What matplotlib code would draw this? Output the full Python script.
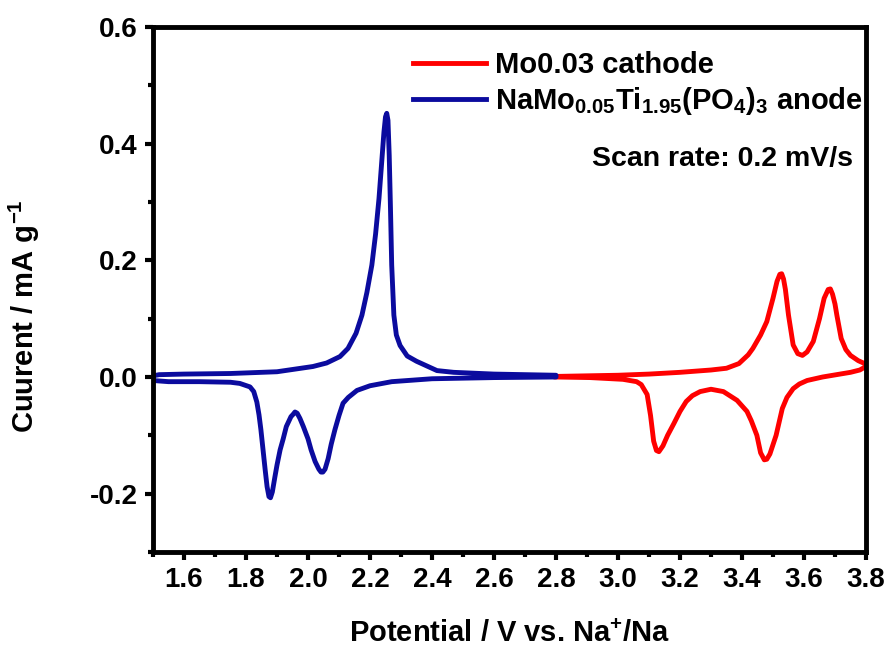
import numpy as np
import matplotlib.pyplot as plt

plt.rcParams['font.family'] = ['Liberation Sans', 'DejaVu Sans']
plt.rcParams['font.weight'] = 'bold'
plt.rcParams['axes.labelweight'] = 'bold'
plt.rcParams['mathtext.fontset'] = 'custom'
plt.rcParams['mathtext.rm'] = 'Liberation Sans:bold'
plt.rcParams['mathtext.it'] = 'Liberation Sans:bold'
plt.rcParams['mathtext.bf'] = 'Liberation Sans:bold'
plt.rcParams['mathtext.default'] = 'rm'

# cathode CV loop (Mo0.03), forward then reverse sweep
cat_v = [2.80, 2.90, 3.00, 3.10, 3.20, 3.30, 3.35, 3.39, 3.42, 3.435, 3.46, 3.48, 3.50, 3.513,
         3.522, 3.528, 3.534, 3.54, 3.55, 3.565, 3.58, 3.595, 3.61, 3.63, 3.65, 3.665, 3.678,
         3.685, 3.692, 3.70, 3.706, 3.72, 3.735, 3.75, 3.775, 3.80,
         3.80, 3.78, 3.75, 3.716, 3.66, 3.61, 3.585, 3.565, 3.545, 3.53, 3.51, 3.49, 3.48,
         3.472, 3.46, 3.448, 3.43, 3.416, 3.384, 3.34, 3.30, 3.265, 3.24, 3.22, 3.20, 3.18,
         3.16, 3.145, 3.132, 3.124, 3.115, 3.105, 3.094, 3.075, 3.06, 3.016, 2.91, 2.80]
cat_i = [0.001, 0.002, 0.003, 0.005, 0.008, 0.012, 0.015, 0.023, 0.038, 0.049, 0.072, 0.095,
         0.135, 0.164, 0.176, 0.177, 0.168, 0.150, 0.106, 0.055, 0.040, 0.037, 0.043, 0.061,
         0.100, 0.135, 0.150, 0.151, 0.142, 0.125, 0.106, 0.066, 0.047, 0.037, 0.028, 0.022,
         0.018, 0.012, 0.008, 0.005, 0.000, -0.006, -0.012, -0.020, -0.035, -0.054, -0.100,
         -0.132, -0.141, -0.142, -0.130, -0.100, -0.075, -0.059, -0.040, -0.025, -0.021,
         -0.025, -0.032, -0.042, -0.059, -0.080, -0.100, -0.118, -0.128, -0.126, -0.110,
         -0.066, -0.030, -0.013, -0.008, -0.004, -0.001, 0.000]

# anode CV loop (NaMo0.05Ti1.95(PO4)3)
an_v = [1.50, 1.52, 1.60, 1.75, 1.90, 2.016, 2.06, 2.103, 2.129, 2.155, 2.174, 2.19, 2.206,
        2.218, 2.229, 2.238, 2.245, 2.250, 2.254, 2.258, 2.262, 2.266, 2.27, 2.277, 2.285,
        2.297, 2.32, 2.35, 2.416, 2.47, 2.60, 2.80,
        2.80, 2.60, 2.40, 2.27, 2.20, 2.158, 2.13, 2.113, 2.10, 2.087, 2.075, 2.065, 2.055,
        2.048, 2.042, 2.035, 2.023, 2.01, 2.00, 1.985, 1.974, 1.965, 1.958, 1.952, 1.945,
        1.93, 1.92, 1.91, 1.90, 1.893, 1.885, 1.879, 1.874, 1.868, 1.862, 1.855, 1.848,
        1.842, 1.835, 1.825, 1.813, 1.78, 1.75, 1.65, 1.55, 1.50, 1.50]
an_i = [0.002, 0.004, 0.005, 0.006, 0.009, 0.018, 0.024, 0.035, 0.049, 0.075, 0.106, 0.145,
        0.192, 0.245, 0.306, 0.370, 0.420, 0.446, 0.452, 0.440, 0.380, 0.290, 0.192, 0.106,
        0.072, 0.054, 0.036, 0.027, 0.011, 0.008, 0.005, 0.003,
        0.000, -0.001, -0.003, -0.008, -0.015, -0.023, -0.035, -0.045, -0.066, -0.090,
        -0.115, -0.140, -0.158, -0.163, -0.163, -0.158, -0.145, -0.125, -0.106, -0.085,
        -0.071, -0.062, -0.060, -0.064, -0.068, -0.085, -0.106, -0.125, -0.151, -0.172,
        -0.197, -0.207, -0.205, -0.188, -0.160, -0.125, -0.090, -0.065, -0.043, -0.025,
        -0.017, -0.011, -0.009, -0.008, -0.008, -0.006, 0.002]

fig = plt.figure(figsize=(8.9, 6.53), dpi=100)
ax = fig.add_axes([153/890, 101/653, 713/890, 525/653])

ax.plot(cat_v, cat_i, color='#ff0000', lw=3.5, solid_joinstyle='round',
        label='Mo0.03 cathode')
ax.plot(an_v, an_i, color='#0b0b9e', lw=3.5, solid_joinstyle='round',
        label=r'NaMo$_{0.05}$Ti$_{1.95}$(PO$_{4}$)$_{3}$ anode')

ax.set_xlim(1.5, 3.8)
ax.set_ylim(-0.3, 0.6)
ax.set_xticks(np.arange(1.6, 3.81, 0.2))
ax.set_xticks(np.arange(1.5, 3.81, 0.1), minor=True)
ax.set_yticks([-0.2, 0.0, 0.2, 0.4, 0.6])
ax.set_yticks(np.arange(-0.3, 0.61, 0.1), minor=True)
ax.set_yticklabels(['-0.2', '0.0', '0.2', '0.4', '0.6'])
ax.set_xticklabels(['%.1f' % v for v in np.arange(1.6, 3.81, 0.2)])

for s in ax.spines.values():
    s.set_linewidth(3.5)
ax.tick_params(which='major', direction='out', length=6, width=3, labelsize=20, pad=5)
ax.tick_params(which='minor', direction='out', length=3.5, width=3)

ax.set_xlabel(r'Potential / V vs. Na$^{+}$/Na', fontsize=21, fontweight='bold', labelpad=19)
ax.set_ylabel(r'Cuurent / mA g$^{-1}$', fontsize=21, fontweight='bold')
ax.yaxis.set_label_coords(-0.155, 0.45)

ax.legend(loc='upper left', bbox_to_anchor=(413/890, 1 - 51/653),
          bbox_transform=fig.transFigure, frameon=False, fontsize=21,
          handlelength=2.5, handletextpad=0.3, borderpad=0, borderaxespad=0,
          labelspacing=0.2)
ax.text(853/890, 1 - 159/653, 'Scan rate: 0.2 mV/s', transform=fig.transFigure,
        ha='right', va='center', fontsize=20.5)

fig.savefig('out.png', dpi=100)
